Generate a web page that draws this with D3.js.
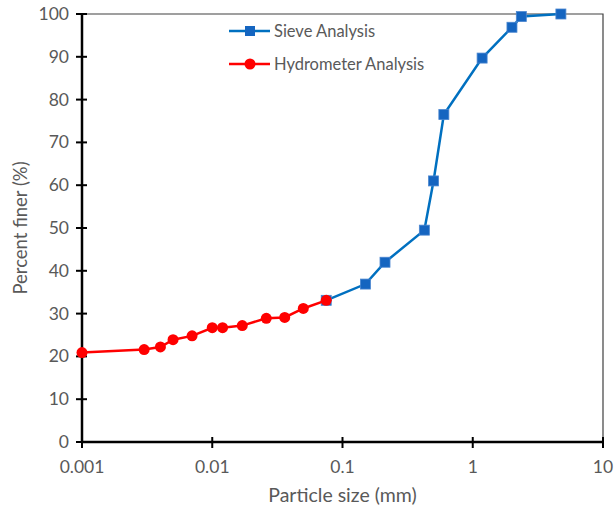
<!DOCTYPE html>
<html>
  <head>
    <style>
    body { margin: 0; background: #fff; }
    text { font-family: Lato, "Open Sans", sans-serif; }
    </style>
  </head>
  <body>
    <script src="https://cdn.jsdelivr.net/npm/d3@7"></script>
    <script>
      // grain size data (mm, % finer)
      var sieveSize = [0.075, 0.15, 0.212, 0.425, 0.5, 0.6, 1.18, 2.0, 2.36, 4.75];
      var sieveFiner = [33.1, 36.9, 42.0, 49.5, 61.0, 76.5, 89.7, 96.9, 99.4, 100];
      var hydroSize = [0.001, 0.003, 0.004, 0.005, 0.007, 0.010, 0.012, 0.017, 0.026, 0.036, 0.050, 0.075];
      var hydroFiner = [20.9, 21.6, 22.2, 23.9, 24.8, 26.7, 26.7, 27.2, 28.9, 29.1, 31.2, 33.1];
      var xTicks = [0.001, 0.01, 0.1, 1, 10];
      var yTicks = [0, 10, 20, 30, 40, 50, 60, 70, 80, 90, 100];

      var W = 614, H = 509;
      var mLeft = 82, mTop = 14, mRight = 603, mBottom = 442;

      var svg = d3.select("body").append("svg")
        .attr("width", W)
        .attr("height", H);

      var x = d3.scaleLog().domain([0.001, 10]).range([mLeft, mRight]);
      var y = d3.scaleLinear().domain([0, 100]).range([mBottom, mTop]);

      // frame (top / right thin)
      svg.append("path")
        .attr("d", "M" + mLeft + "," + mTop + "H" + mRight + "V" + mBottom)
        .attr("fill", "none")
        .attr("stroke", "#404040")
        .attr("stroke-width", 1.2);

      // y axis
      var yAxis = svg.append("g");
      yAxis.append("line")
        .attr("x1", mLeft).attr("x2", mLeft)
        .attr("y1", y(0)).attr("y2", y(100))
        .attr("stroke", "#000").attr("stroke-width", 2.5);
      yAxis.selectAll("line.tick").data(yTicks).enter().append("line")
        .attr("class", "tick")
        .attr("x1", mLeft - 6).attr("x2", mLeft + 5)
        .attr("y1", function(d) { return y(d); })
        .attr("y2", function(d) { return y(d); })
        .attr("stroke", "#000").attr("stroke-width", 2);
      yAxis.selectAll("text").data(yTicks).enter().append("text")
        .attr("x", mLeft - 13)
        .attr("y", function(d) { return y(d) + 6; })
        .attr("text-anchor", "end")
        .attr("font-size", "17.5px")
        .attr("fill", "#595959")
        .text(function(d) { return d; });

      // x axis
      var xAxis = svg.append("g");
      xAxis.append("line")
        .attr("x1", x(0.001)).attr("x2", x(10))
        .attr("y1", mBottom).attr("y2", mBottom)
        .attr("stroke", "#000").attr("stroke-width", 2.5);
      xAxis.selectAll("line.tick").data(xTicks).enter().append("line")
        .attr("class", "tick")
        .attr("x1", function(d) { return x(d); })
        .attr("x2", function(d) { return x(d); })
        .attr("y1", mBottom - 5).attr("y2", mBottom + 6)
        .attr("stroke", "#000").attr("stroke-width", 2);
      xAxis.selectAll("text").data(xTicks).enter().append("text")
        .attr("x", function(d) { return x(d); })
        .attr("y", mBottom + 31)
        .attr("text-anchor", "middle")
        .attr("font-size", "17.5px")
        .attr("fill", "#595959")
        .text(function(d) { return d; });

      // axis titles
      svg.append("text")
        .attr("x", (mLeft + mRight) / 2)
        .attr("y", 502)
        .attr("text-anchor", "middle")
        .attr("font-size", "19.5px")
        .attr("fill", "#595959")
        .text("Particle size (mm)");
      svg.append("text")
        .attr("transform", "translate(27," + ((mTop + mBottom) / 2) + ") rotate(-90)")
        .attr("text-anchor", "middle")
        .attr("font-size", "18.5px")
        .attr("fill", "#595959")
        .text("Percent finer (%)");

      var line = d3.line()
        .x(function(d) { return x(d[0]); })
        .y(function(d) { return y(d[1]); });

      var sieve = d3.zip(sieveSize, sieveFiner);
      var hydro = d3.zip(hydroSize, hydroFiner);

      svg.append("path")
        .datum(sieve)
        .attr("d", line)
        .attr("fill", "none")
        .attr("stroke", "#0070C0")
        .attr("stroke-width", 2.5);
      svg.selectAll("rect.sieve").data(sieve).enter().append("rect")
        .attr("class", "sieve")
        .attr("x", function(d) { return x(d[0]) - 5; })
        .attr("y", function(d) { return y(d[1]) - 5; })
        .attr("width", 10).attr("height", 10)
        .attr("fill", "#1565C0")
        .attr("stroke", "#4A86D0").attr("stroke-width", 0.8);

      svg.append("path")
        .datum(hydro)
        .attr("d", line)
        .attr("fill", "none")
        .attr("stroke", "#FF0000")
        .attr("stroke-width", 2.5);
      svg.selectAll("circle.hydro").data(hydro).enter().append("circle")
        .attr("class", "hydro")
        .attr("cx", function(d) { return x(d[0]); })
        .attr("cy", function(d) { return y(d[1]); })
        .attr("r", 5.5)
        .attr("fill", "#FF0000");

      // legend
      var lg = svg.append("g");
      lg.append("line")
        .attr("x1", 229).attr("x2", 270).attr("y1", 31).attr("y2", 31)
        .attr("stroke", "#0070C0").attr("stroke-width", 2.5);
      lg.append("rect")
        .attr("x", 245).attr("y", 26).attr("width", 10).attr("height", 10)
        .attr("fill", "#1565C0");
      lg.append("text")
        .attr("x", 274).attr("y", 37)
        .attr("font-size", "16.5px").attr("fill", "#595959")
        .text("Sieve Analysis");
      lg.append("line")
        .attr("x1", 229).attr("x2", 270).attr("y1", 64).attr("y2", 64)
        .attr("stroke", "#FF0000").attr("stroke-width", 2.5);
      lg.append("circle")
        .attr("cx", 250).attr("cy", 64).attr("r", 5.5)
        .attr("fill", "#FF0000");
      lg.append("text")
        .attr("x", 274).attr("y", 70)
        .attr("font-size", "16.5px").attr("fill", "#595959")
        .text("Hydrometer Analysis");
    </script>
  </body>
</html>
